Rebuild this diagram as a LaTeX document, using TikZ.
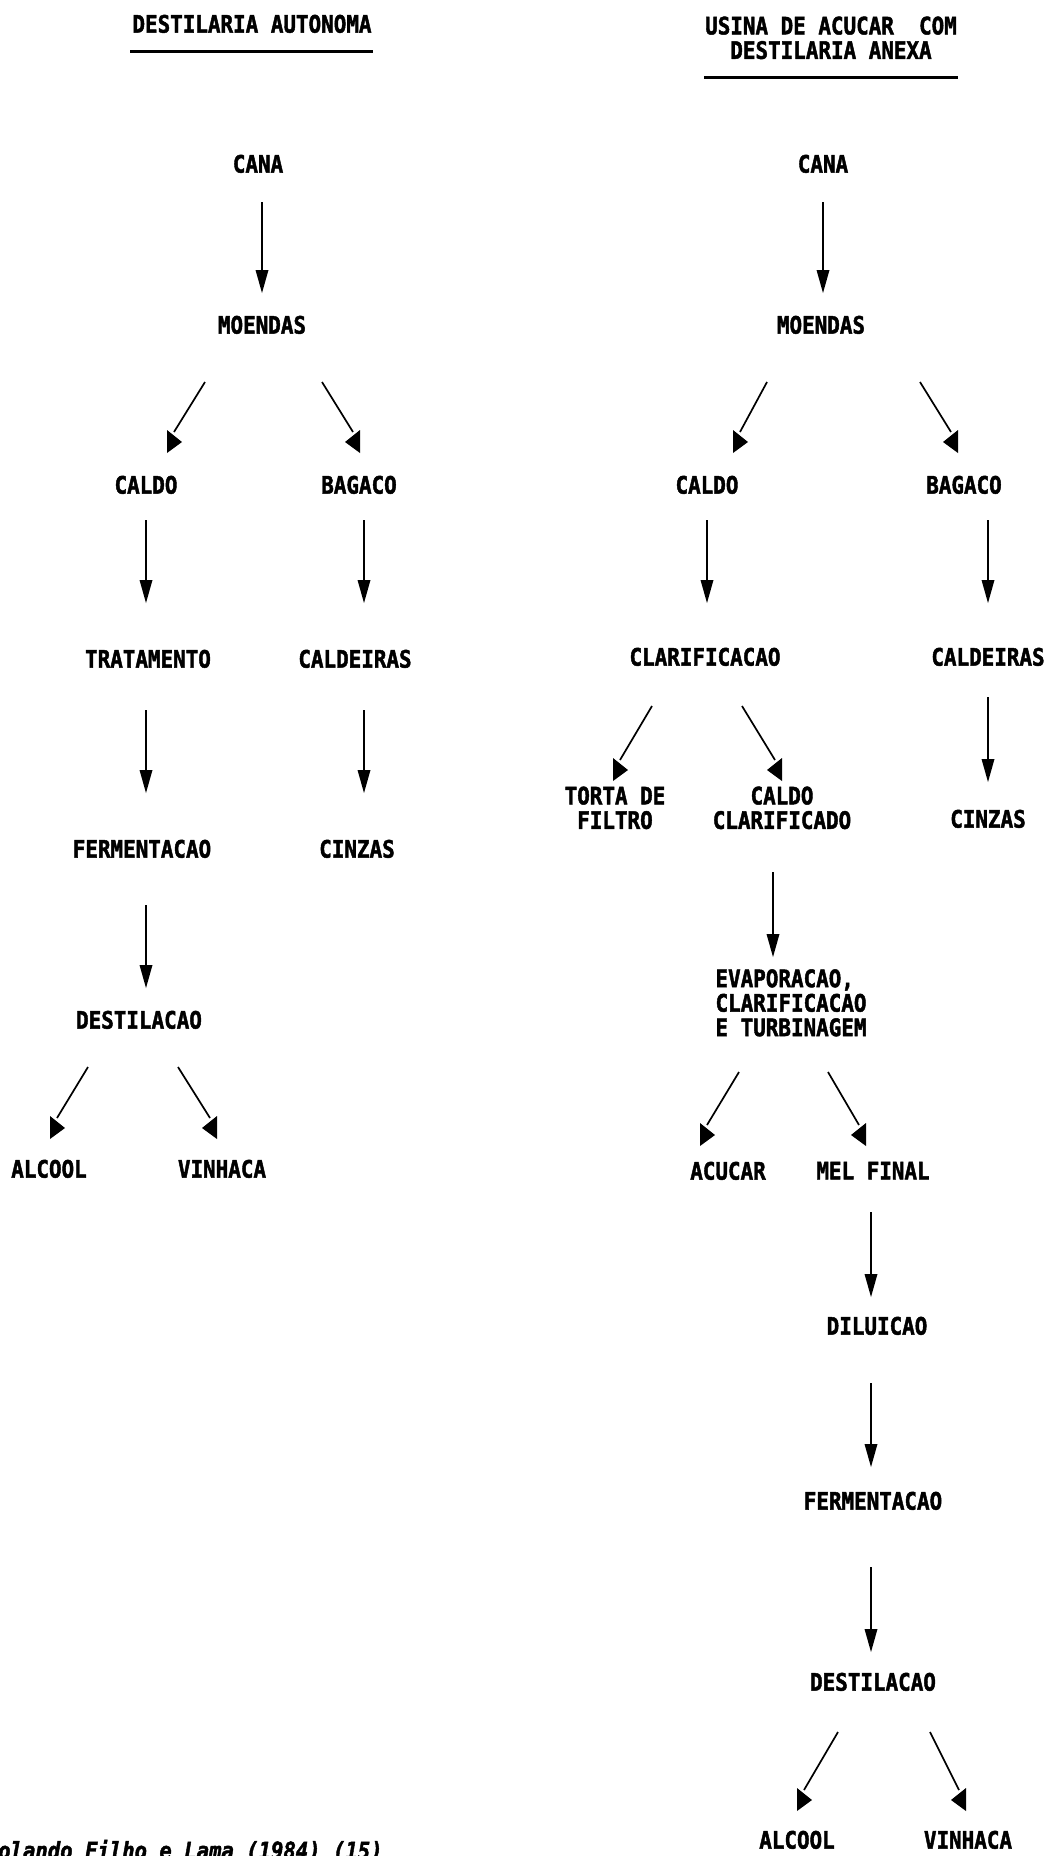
\documentclass[tikz,border=0pt]{standalone}
\usepackage{fontspec}
\newfontfamily\dotf{DejaVu Sans Mono}[UprightFont={* Bold}, UprightFeatures={FakeBold=2}, ItalicFont={* Bold Oblique}, ItalicFeatures={FakeBold=2}]
\usepackage{graphicx}
\newcommand{\tx}[1]{\scalebox{1}[1.15]{\begin{tabular}{@{}c@{}}#1\end{tabular}}}
\newcommand{\txl}[1]{\scalebox{1}[1.15]{\begin{tabular}{@{}l@{}}#1\end{tabular}}}
\tikzset{
  lbl/.style={inner sep=0pt, font=\dotf\fontsize{20.9}{19.2}\selectfont},
  conn/.style={line width=1.7pt, black},
  tridown/.pic={\fill (-6.5,0)--(6.5,0)--(0,23)--cycle;},
  triright/.pic={\fill (-7,-2)--(-7,21)--(8,10)--cycle;},
  trileft/.pic={\fill (7,-2)--(7,21)--(-8,10)--cycle;},
}
% vertical arrow: name, x, y1, y2(tip)
\newcommand{\varrow}[4]{%
  \coordinate (#1s) at (#2,#3);
  \coordinate (#1e) at (#2,#4-23);
  \draw[conn] (#1s) -- (#1e);
  \pic at (#1e) {tridown};
}
% diagonal arrow: name, start, end, tip pic
\newcommand{\darrow}[4]{%
  \coordinate (#1s) at (#2);
  \coordinate (#1e) at (#3);
  \draw[conn] (#1s) -- (#1e);
  \pic at (#1e) {#4};
}
\begin{document}
\begin{tikzpicture}[x=1pt,y=-1pt]
\useasboundingbox[fill=white] (0,0) rectangle (1047,1856);

% ---------- titles ----------
\node[lbl] (t1) at (252,27) {\tx{DESTILARIA AUTONOMA}};
\draw[line width=3pt] (130,51) -- (373,51);
\node[lbl] (t2) at (831,41) {\tx{USINA DE ACUCAR\ \ COM\\DESTILARIA ANEXA}};
\draw[line width=3pt] (704,77) -- (958,77);

% ---------- left column ----------
\node[lbl] (lcana) at (258,167) {\tx{CANA}};
\node[lbl] (lmoendas) at (262,328) {\tx{MOENDAS}};
\node[lbl] (lcaldo) at (146,488) {\tx{CALDO}};
\node[lbl] (lbagaco) at (359,488) {\tx{BAGACO}};
\node[lbl] (ltrat) at (148,662) {\tx{TRATAMENTO}};
\node[lbl] (lcaldeiras) at (355,662) {\tx{CALDEIRAS}};
\node[lbl] (lferm) at (142,852) {\tx{FERMENTACAO}};
\node[lbl] (lcinzas) at (357,852) {\tx{CINZAS}};
\node[lbl] (ldest) at (139,1023) {\tx{DESTILACAO}};
\node[lbl] (lalcool) at (49,1172) {\tx{ALCOOL}};
\node[lbl] (lvinhaca) at (222,1172) {\tx{VINHACA}};

\varrow{la1}{262}{202}{293}
\darrow{la2}{205,382}{174,432}{triright}
\darrow{la3}{322,382}{353,432}{trileft}
\varrow{la4}{146}{520}{603}
\varrow{la5}{364}{520}{603}
\varrow{la6}{146}{710}{793}
\varrow{la7}{364}{710}{793}
\varrow{la8}{146}{905}{988}
\darrow{la9}{88,1067}{57,1118}{triright}
\darrow{la10}{178,1067}{210,1118}{trileft}

% ---------- right column ----------
\node[lbl] (rcana) at (823,167) {\tx{CANA}};
\node[lbl] (rmoendas) at (821,328) {\tx{MOENDAS}};
\node[lbl] (rcaldo) at (707,488) {\tx{CALDO}};
\node[lbl] (rbagaco) at (964,488) {\tx{BAGACO}};
\node[lbl] (rclar) at (705,660) {\tx{CLARIFICACAO}};
\node[lbl] (rcaldeiras) at (988,660) {\tx{CALDEIRAS}};
\node[lbl] (rtorta) at (615,811) {\tx{TORTA DE\\FILTRO}};
\node[lbl] (rcaldoclar) at (782,811) {\tx{CALDO\\CLARIFICADO}};
\node[lbl] (rcinzas) at (988,822) {\tx{CINZAS}};
\node[lbl] (revap) at (791,1006) {\txl{EVAPORACAO,\\CLARIFICACAO\\E TURBINAGEM}};
\node[lbl] (racucar) at (728,1174) {\tx{ACUCAR}};
\node[lbl] (rmel) at (873,1174) {\tx{MEL FINAL}};
\node[lbl] (rdil) at (877,1329) {\tx{DILUICAO}};
\node[lbl] (rferm) at (873,1504) {\tx{FERMENTACAO}};
\node[lbl] (rdest) at (873,1685) {\tx{DESTILACAO}};
\node[lbl] (ralcool) at (797,1843) {\tx{ALCOOL}};
\node[lbl] (rvinhaca) at (968,1843) {\tx{VINHACA}};

\varrow{ra1}{823}{202}{293}
\darrow{ra2}{767,382}{740,432}{triright}
\darrow{ra3}{920,382}{951,432}{trileft}
\varrow{ra4}{707}{520}{603}
\varrow{ra5}{988}{520}{603}
\darrow{ra6}{652,706}{620,760}{triright}
\darrow{ra7}{742,706}{775,760}{trileft}
\varrow{ra8}{988}{697}{782}
\varrow{ra9}{773}{872}{957}
\darrow{ra10}{739,1072}{707,1125}{triright}
\darrow{ra11}{828,1072}{859,1125}{trileft}
\varrow{ra12}{871}{1212}{1297}
\varrow{ra13}{871}{1383}{1467}
\varrow{ra14}{871}{1567}{1652}
\darrow{ra15}{838,1732}{804,1790}{triright}
\darrow{ra16}{930,1732}{959,1790}{trileft}

% ---------- source (cut at page bottom) ----------
\node[inner sep=0pt, anchor=base west,
      font=\dotf\itshape\fontsize{20.6}{20}\selectfont] (src)
  at (-2,1859) {\scalebox{1}[1.15]{olando Filho e Lama (1984) (15)}};
\end{tikzpicture}
\end{document}
